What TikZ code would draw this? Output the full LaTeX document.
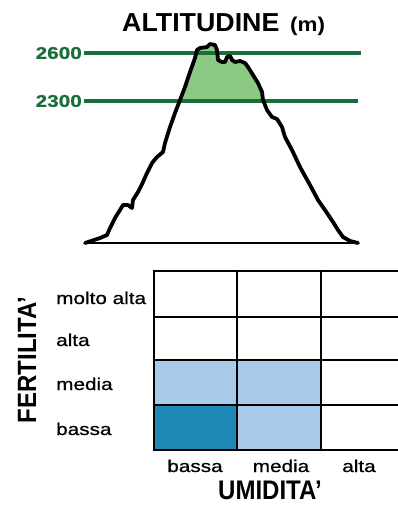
\documentclass[tikz,border=0pt]{standalone}
\usepackage{fontspec}
\setmainfont{Liberation Sans}
\newfontfamily\labelfont{Liberation Sans}[FakeBold=0.7]
\newfontfamily\numfont{Liberation Sans Bold}[FakeBold=0.8]
\usepackage{graphicx}
\definecolor{linegreen}{HTML}{1B6E3B}
\definecolor{fillgreen}{HTML}{8CC984}
\definecolor{lightblue}{HTML}{A8CBEA}
\definecolor{darkblue}{HTML}{1F87B6}
\tikzset{
  level/.style={draw=linegreen, line width=3.6pt},
  levellabel/.style={text=linegreen, font=\numfont\fontsize{17}{17}\selectfont, inner sep=0pt, anchor=east},
  ridge/.style={draw=black, line width=3.8pt, line join=round, line cap=round},
  gridline/.style={draw=black, line width=2.8pt},
  cellname/.style={font=\labelfont\fontsize{17}{17}\selectfont, inner sep=0pt, anchor=base},
  axisname/.style={font=\bfseries\fontsize{24}{24}\selectfont, inner sep=0pt},
}
\newcommand{\wide}[1]{\scalebox{1.22}[1]{#1}}
\begin{document}
\begin{tikzpicture}[x=1pt,y=-1pt]
\useasboundingbox (0,0) rectangle (398,509);
\clip (0,0) rectangle (398,509);

% ---- altitude profile ----
\node[inner sep=0pt, anchor=base west, font=\bfseries\fontsize{26}{26}\selectfont] (title) at (122,31) {\scalebox{1.03}[1]{ALTITUDINE}};
\node[inner sep=0pt, anchor=base west, font=\bfseries\fontsize{20}{20}\selectfont] (unit) at (290,31) {\scalebox{1.12}[1]{(m)}};

\def\ridgepath{(85,243) -- (100,238) -- (107,235) -- (110,228) -- (115,218) -- (120,210)
  -- (123,205) -- (128,205) -- (132,208) -- (133,200) -- (138,192) -- (143,182)
  -- (147,173) -- (152,163) -- (157,157) -- (163,152) -- (165,143) -- (170,127)
  -- (175,113) -- (180,100) -- (185,87) -- (190,72) -- (195,58) -- (197,50)
  -- (200,48) -- (207,47) -- (210,44) -- (215,45) -- (217,50) -- (218,60)
  -- (222,62) -- (225,62) -- (227,57) -- (230,56) -- (232,60) -- (235,62)
  -- (240,61) -- (245,63) -- (248,67) -- (253,75) -- (258,83) -- (262,92)
  -- (263,100) -- (267,110) -- (272,117) -- (277,119) -- (282,127) -- (285,137)
  -- (292,150) -- (300,167) -- (310,185) -- (318,200) -- (327,213) -- (333,222)
  -- (338,230) -- (343,237) -- (350,241) -- (358,243)}

% band between the two levels
\begin{scope}
  \clip (0,0) rectangle (398,101);
  \fill[fillgreen] \ridgepath -- cycle;
\end{scope}

\coordinate (l26a) at (84,53);  \coordinate (l26b) at (361,53);
\coordinate (l23a) at (84,101); \coordinate (l23b) at (358,101);
\draw[level] (l26a) -- (l26b);
\draw[level] (l23a) -- (l23b);
\node[levellabel] (n2600) at (82,53) {\wide{2600}};
\node[levellabel] (n2300) at (82,101) {\wide{2300}};

\coordinate (baseL) at (84,243); \coordinate (baseR) at (358,243);
\draw[black, line width=2pt] (baseL) -- (baseR);
\draw[ridge] \ridgepath;

% ---- fertility / humidity table ----
\fill[lightblue] (154,360) rectangle (321,450);
\fill[darkblue] (154,405) rectangle (237,450);
\foreach \x in {154,237,321} {
  \fill[gray!70] (\x-1.2,351) rectangle (\x+1.2,354);
}
\foreach \y in {271,317,360,405,450} {
  \draw[gridline] (152.6,\y) -- (402,\y);
}
\foreach \x in {154,237,321} {
  \draw[gridline] (\x,269.6) -- (\x,451.4);
}

\node[cellname, anchor=base west] (fMA) at (56,304) {\wide{molto alta}};
\node[cellname, anchor=base west] (fA)  at (56,346) {\wide{alta}};
\node[cellname, anchor=base west] (fM)  at (56,390) {\wide{media}};
\node[cellname, anchor=base west] (fB)  at (56,435) {\wide{bassa}};

\node[cellname] (uB) at (195,472) {\wide{bassa}};
\node[cellname] (uM) at (281,472) {\wide{media}};
\node[cellname] (uA) at (359,472) {\wide{alta}};

\node[axisname, anchor=base] (umid) at (270,499) {\scalebox{1}[1.12]{UMIDITA’}};
\node[axisname, rotate=90, anchor=base] (fert) at (36,360) {\scalebox{1}[1.1]{FERTILITA’}};
\end{tikzpicture}
\end{document}
